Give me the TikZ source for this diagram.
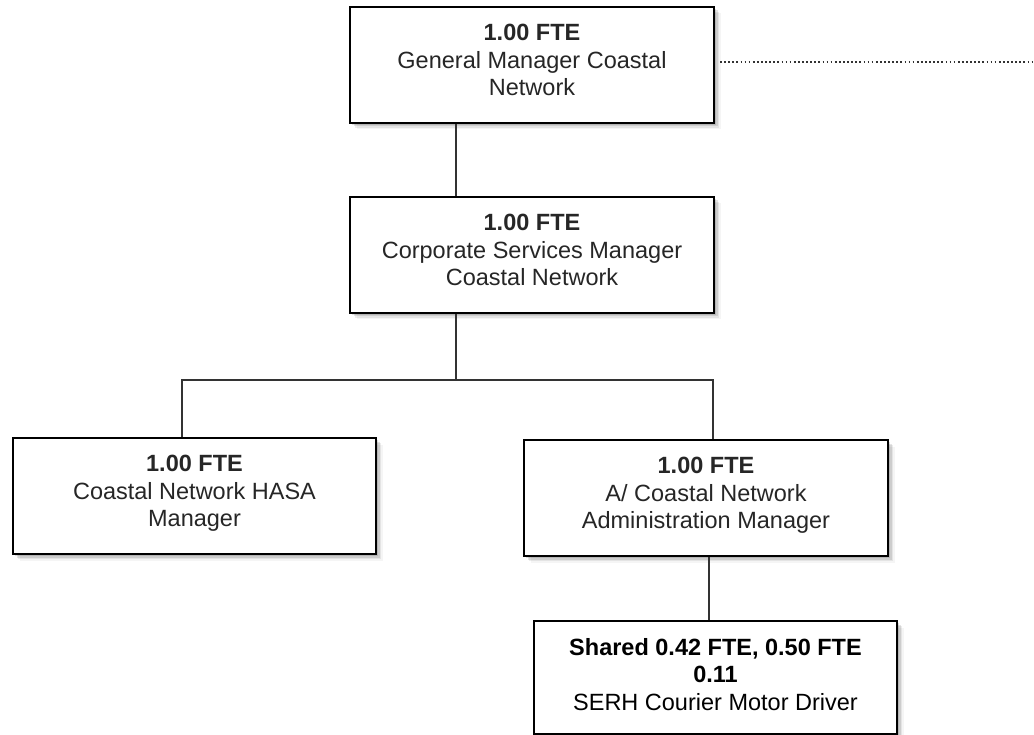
\documentclass[tikz,border=0pt]{standalone}
\usepackage{fontspec}
\setmainfont{Liberation Sans}
\usetikzlibrary{shadows}
\definecolor{txtgray}{HTML}{262626}
\definecolor{linegray}{HTML}{333333}
\begin{document}
\begin{tikzpicture}[x=1pt,y=-1pt,
  box/.style={draw=black, line width=2pt, fill=white, anchor=north west, inner sep=0pt,
    minimum width=363pt, minimum height=116pt,
    drop shadow={shadow xshift=2pt, shadow yshift=-2pt, fill=black, opacity=.12},
    drop shadow={shadow xshift=3.5pt, shadow yshift=-3.5pt, fill=black, opacity=.10},
    drop shadow={shadow xshift=5pt, shadow yshift=-5pt, fill=black, opacity=.07},
    drop shadow={shadow xshift=6.5pt, shadow yshift=-6.5pt, fill=black, opacity=.04}},
  txt/.style={anchor=north, align=center, inner sep=0pt, text=txtgray,
    font=\fontsize{23.5}{27.5}\selectfont},
  link/.style={draw=linegray, line width=1.5pt},
  dotlink/.style={draw=linegray, line width=1.6pt, dash pattern=on 1.7pt off 2.4pt}]
\useasboundingbox (0,0) rectangle (1034,735);
% boxes
\node[box, minimum width=364pt] (gm) at (349,6) {};
\node[box, minimum width=364pt] (csm) at (349,196) {};
\node[box] (hasa) at (12,437) {};
\node[box, minimum width=364pt] (adm) at (523,439) {};
\node[box, minimum height=113pt] (serh) at (533,620) {};
% texts
\node[txt] (gmt) at ([yshift=-18pt]gm.north) {\textbf{1.00 FTE}\\General Manager Coastal\\Network};
\node[txt] (csmt) at ([yshift=-18pt]csm.north) {\textbf{1.00 FTE}\\Corporate Services Manager\\Coastal Network};
\node[txt] (hasat) at ([yshift=-18pt]hasa.north) {\textbf{1.00 FTE}\\Coastal Network HASA\\Manager};
\node[txt] (admt) at ([yshift=-18pt]adm.north) {\textbf{1.00 FTE}\\A/ Coastal Network\\Administration Manager};
\node[txt] (serht) at ([yshift=-18pt]serh.north) {\textcolor{black}{\textbf{Shared 0.42 FTE, 0.50 FTE}}\\\textcolor{black}{\textbf{0.11}}\\\textcolor{black}{SERH Courier Motor Driver}};
% connector points
\coordinate (j) at (456,380);
\coordinate (bl) at (182,380);
\coordinate (br) at (713,380);
\coordinate (d5) at (709,600);
\coordinate (dotend) at (1034,62);
% connectors
\draw[link] (gm.south -| j) -- (csm.north -| j);
\draw[link] (csm.south -| j) -- (j);
\draw[link] (hasa.north -| bl) -- (bl) -- (br) -- (adm.north -| br);
\draw[link] (adm.south -| d5) -- (serh.north -| d5);
\draw[dotlink] ([xshift=5pt]gm.east |- dotend) -- (dotend);
\end{tikzpicture}
\end{document}
